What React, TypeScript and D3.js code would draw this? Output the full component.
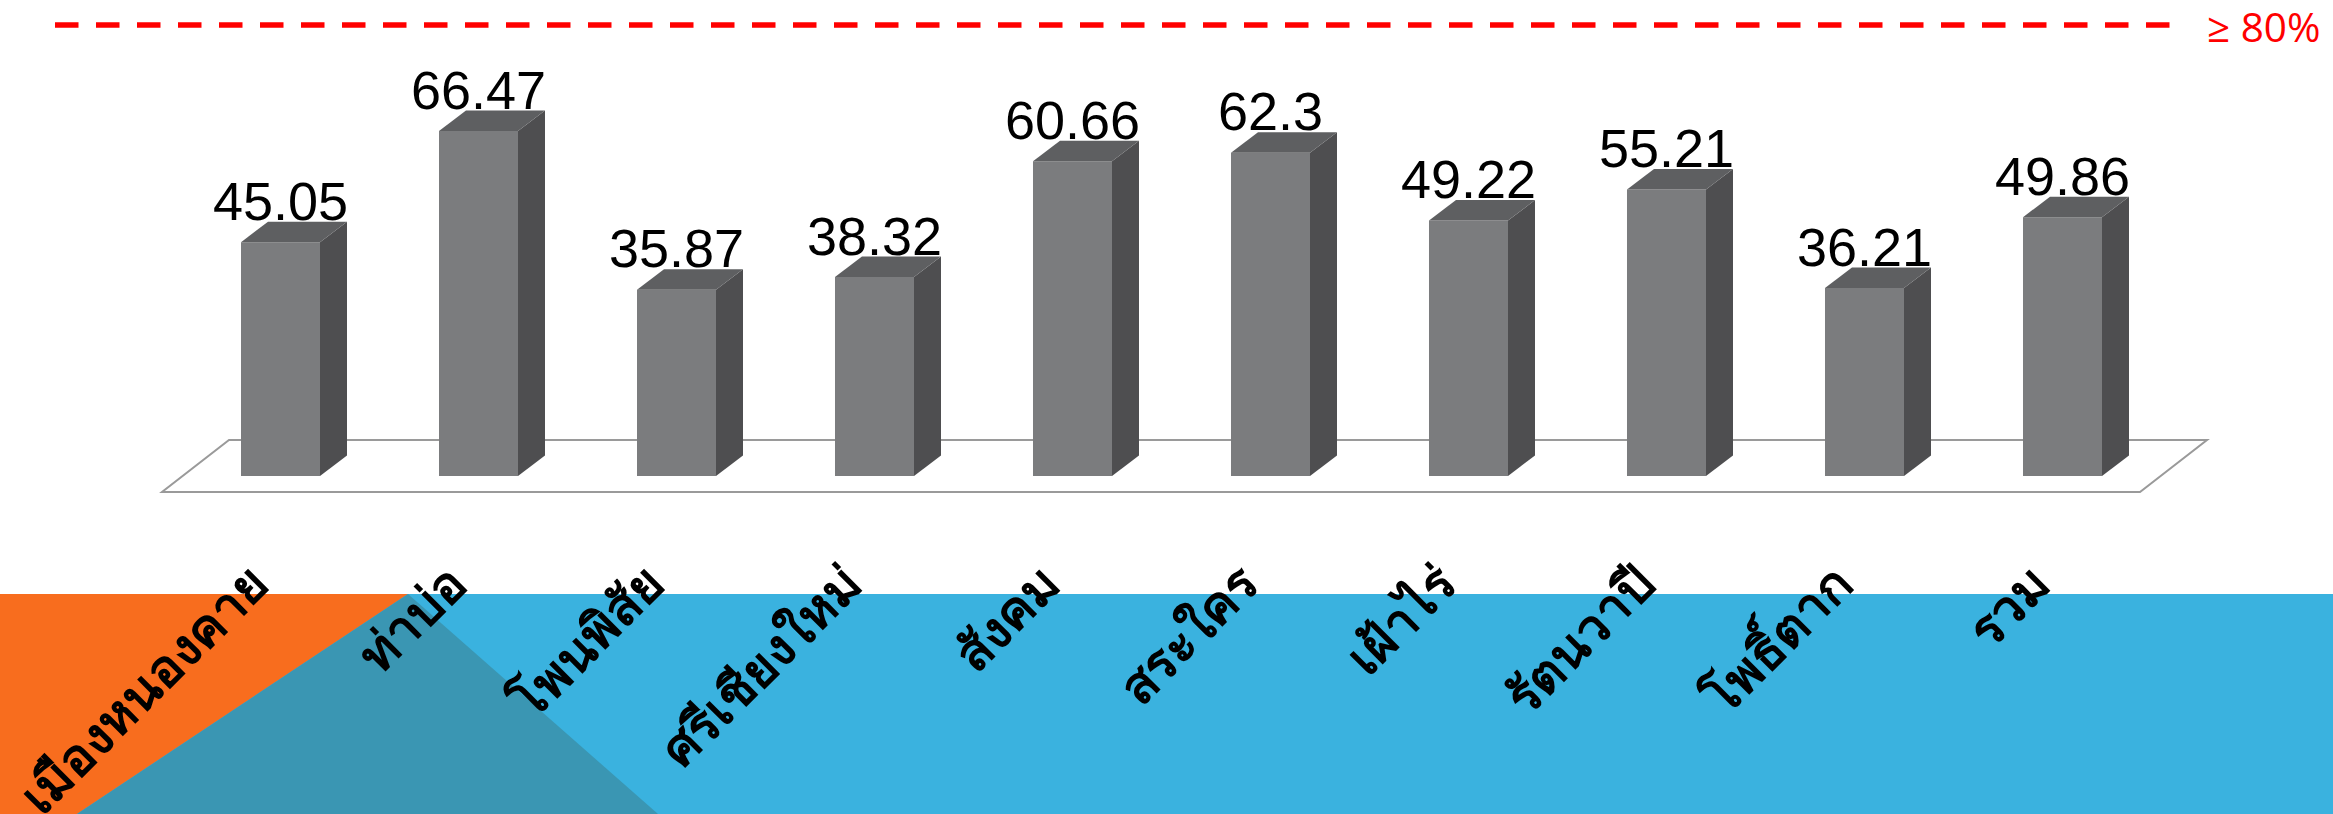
import React, { useEffect } from "react";
import * as d3 from "d3";

const categories: string[] = [
  "เมืองหนองคาย",
  "ท่าบ่อ",
  "โพนพิสัย",
  "ศรีเชียงใหม่",
  "สังคม",
  "สระใคร",
  "เฝ้าไร่",
  "รัตนวาปี",
  "โพธิ์ตาก",
  "รวม",
];
const values: number[] = [45.05, 66.47, 35.87, 38.32, 60.66, 62.3, 49.22, 55.21, 36.21, 49.86];
const valueLabels: string[] = ["45.05", "66.47", "35.87", "38.32", "60.66", "62.3", "49.22", "55.21", "36.21", "49.86"];
const targetLabel = "≥ 80%";

const W = 2333;
const H = 814;
const DX = 27;
const DY = -20.5;

export default function App() {
  useEffect(() => {
    document.body.style.margin = "0";
  }, []);

  const x = d3.scaleBand<string>().domain(categories).range([241, 2102]).paddingInner(0.601).paddingOuter(0);
  const y = d3.scaleLinear().domain([0, 80]).range([476, 476 - 80 * 5.19]);
  const bw = x.bandwidth();
  const y0 = y(0);

  const floorFrontY = 492;
  const floorBackY = 440;
  const floorPath = `M162,${floorFrontY} L2140,${floorFrontY} L2207,${floorBackY} L229,${floorBackY} Z`;

  const line = d3.line<[number, number]>();

  return (
    <svg width={W} height={H} style={{ position: "absolute", left: 0, top: 0, display: "block" }} fontFamily="'Liberation Sans', Arial, sans-serif">
      <rect x={0} y={0} width={W} height={H} fill="#ffffff" />
      {/* bottom decoration */}
      <rect x={0} y={594} width={W} height={H - 594} fill="#3AB2DF" />
      <path d="M0,594 L408,594 L77,814 L0,814 Z" fill="#F86D1E" />
      <path d="M408,594 L77,814 L658,814 Z" fill="#3A96B3" />

      {/* target line */}
      <line x1={55} x2={2170} y1={25} y2={25} stroke="#FF0000" strokeWidth={5.5} strokeDasharray="23.5 17.5" />
      <text x={2207} y={42} fontSize={40.5} fill="#FF0000" fontFamily="'Open Sans', 'Liberation Sans', sans-serif">{targetLabel}</text>

      {/* floor */}
      <path d={floorPath} fill="#ffffff" stroke="#9a9a9a" strokeWidth={2} />

      {categories.map((c, i) => {
        const x0 = x(c)!;
        const x1 = x0 + bw;
        const yt = y(values[i]);
        const front = line([[x0, yt], [x1, yt], [x1, y0], [x0, y0]]) + "Z";
        const side = line([[x1, yt], [x1 + DX, yt + DY], [x1 + DX, y0 + DY], [x1, y0]]) + "Z";
        const top = line([[x0, yt], [x0 + DX, yt + DY], [x1 + DX, yt + DY], [x1, yt]]) + "Z";
        return (
          <g key={c}>
            <path d={front} fill="#7B7C7E" />
            <path d={side} fill="#4E4E50" />
            <path d={top} fill="#5E5F61" />
          </g>
        );
      })}

      {categories.map((c, i) => {
        const cx = x(c)! + bw / 2;
        return (
          <text key={"v" + c} x={cx} y={y(values[i]) + DY - 2} fontSize={54} textAnchor="middle" fill="#000">
            {valueLabels[i]}
          </text>
        );
      })}

      {categories.map((c) => {
        const cx = x(c)! + bw / 2;
        const px = cx - 9;
        const py = 587;
        return (
          <text key={"c" + c} x={px} y={py} fontSize={51} fontWeight="bold" textAnchor="end" fill="#000" transform={`rotate(-45 ${px} ${py})`}>
            {c}
          </text>
        );
      })}
    </svg>
  );
}
